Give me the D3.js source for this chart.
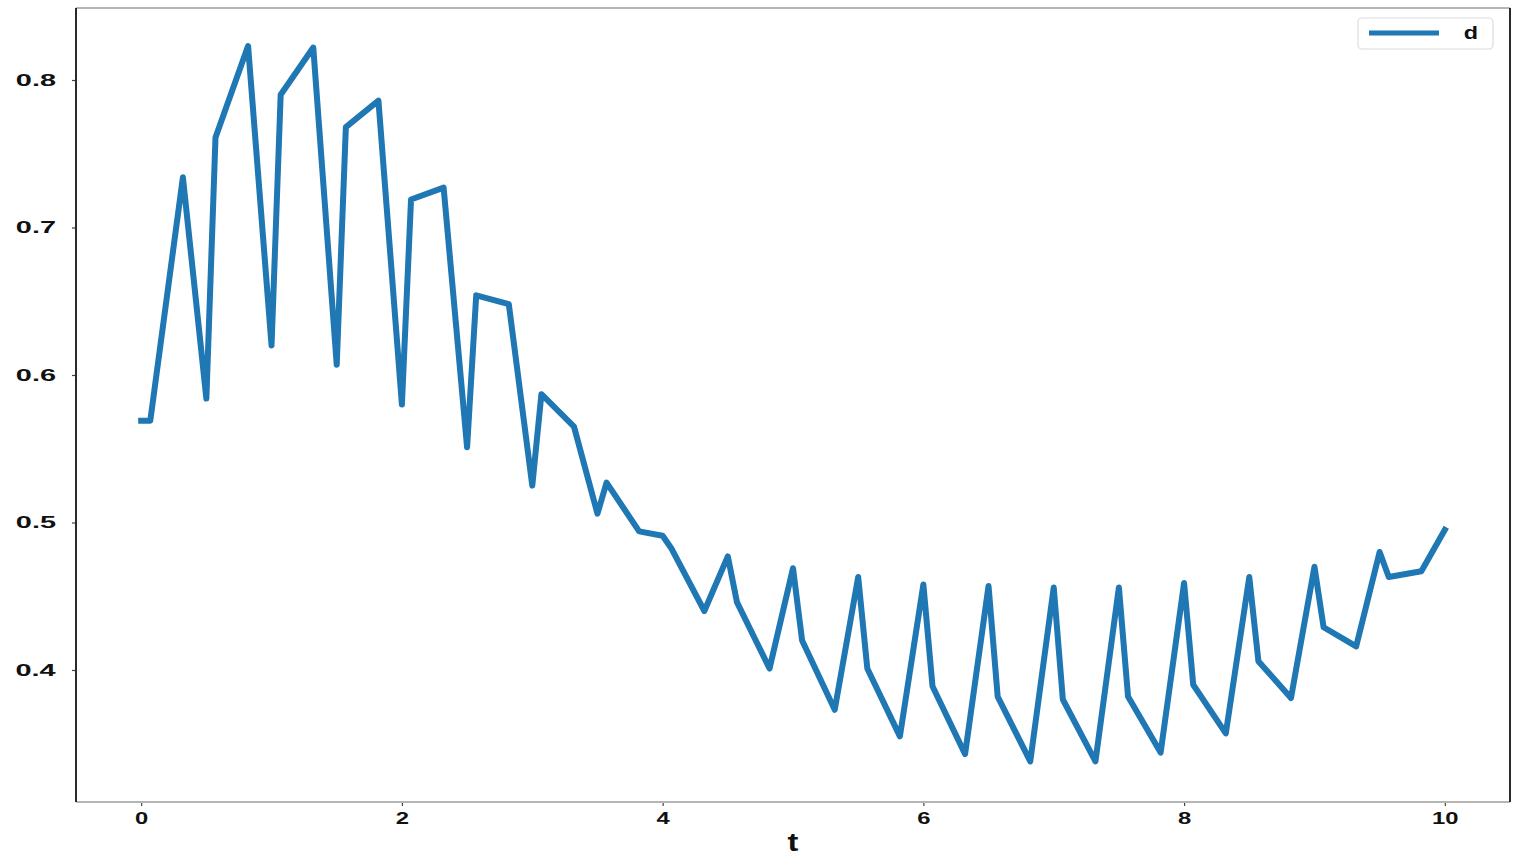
<!DOCTYPE html>
<html>
<head>
<meta charset="utf-8">
<script src="https://cdn.jsdelivr.net/npm/d3@7"></script>
<style>
  html, body { margin: 0; padding: 0; background: #fff; }
  svg { display: block; }
  text { font-family: "Liberation Sans", Arial, sans-serif; font-weight: bold; fill: #111; }
</style>
</head>
<body>
<svg id="chart" width="1524" height="864"></svg>
<script>
// ---- data ----
const tValues = [
  0, 0.07, 0.32, 0.5, 0.57, 0.82, 1.0, 1.07, 1.32, 1.5, 1.57, 1.82,
  2.0, 2.07, 2.32, 2.5, 2.57, 2.82, 3.0, 3.07, 3.32, 3.5, 3.57, 3.82,
  4.0, 4.07, 4.32, 4.5, 4.57, 4.82, 5.0, 5.07, 5.32, 5.5, 5.57, 5.82,
  6.0, 6.07, 6.32, 6.5, 6.57, 6.82, 7.0, 7.07, 7.32, 7.5, 7.57, 7.82,
  8.0, 8.07, 8.32, 8.5, 8.57, 8.82, 9.0, 9.07, 9.32, 9.5, 9.57, 9.82, 10.0
];
const dValues = [
  0.569, 0.569, 0.734, 0.584, 0.761, 0.823, 0.620, 0.790, 0.822, 0.607, 0.768, 0.786,
  0.580, 0.719, 0.727, 0.551, 0.654, 0.648, 0.525, 0.587, 0.565, 0.506, 0.527, 0.494,
  0.491, 0.482, 0.440, 0.477, 0.446, 0.401, 0.469, 0.420, 0.373, 0.463, 0.401, 0.355,
  0.458, 0.389, 0.343, 0.457, 0.382, 0.338, 0.456, 0.380, 0.338, 0.456, 0.382, 0.344,
  0.459, 0.390, 0.357, 0.463, 0.406, 0.381, 0.470, 0.429, 0.416, 0.480, 0.463, 0.467, 0.495
];
const xTicks = [0, 2, 4, 6, 8, 10];
const yTicks = [0.4, 0.5, 0.6, 0.7, 0.8];
const seriesName = "d";
const xLabel = "t";

// ---- layout ----
const svg = d3.select("#chart");
const L = 76, R = 1510, T = 8, B = 802;
const x = d3.scaleLinear().domain([-0.5, 10.5]).range([L, R]);
const y = d3.scaleLinear().domain([0.31051, 0.84881]).range([B, T]);
const blue = "#1f77b4";

// line
const data = tValues.map((t, i) => ({ t, d: dValues[i] }));
svg.append("clipPath").attr("id", "clip")
  .append("rect").attr("x", L).attr("y", T).attr("width", R - L).attr("height", B - T);
svg.append("path")
  .datum(data)
  .attr("clip-path", "url(#clip)")
  .attr("fill", "none")
  .attr("stroke", blue)
  .attr("stroke-width", 6)
  .attr("stroke-linejoin", "round")
  .attr("stroke-linecap", "square")
  .attr("d", d3.line().x(p => x(p.t)).y(p => y(p.d)));

// axes
const xAxis = svg.append("g").attr("transform", `translate(0,${B})`)
  .call(d3.axisBottom(x).tickValues(xTicks).tickSize(4).tickPadding(6).tickFormat(d3.format("d")));
const yAxis = svg.append("g").attr("transform", `translate(${L},0)`)
  .call(d3.axisLeft(y).tickValues(yTicks).tickSize(4).tickPadding(16).tickFormat(d3.format(".1f")));
[xAxis, yAxis].forEach(g => {
  g.select(".domain").remove();
  g.selectAll(".tick line").attr("stroke", "#444").attr("stroke-width", 1.2);
  g.selectAll(".tick text").attr("font-size", 17).attr("fill", "#111")
    .style("font-family", '"Liberation Sans", Arial, sans-serif').style("font-weight", "bold");
});
xAxis.selectAll(".tick text")
  .style("transform-box", "fill-box").style("transform-origin", "center")
  .style("transform", "scaleX(1.4)");
yAxis.selectAll(".tick text")
  .style("transform-box", "fill-box").style("transform-origin", "right center")
  .style("transform", "scaleX(1.7)");

// spines
svg.append("line").attr("x1", L).attr("x2", R).attr("y1", T).attr("y2", T)
  .attr("stroke", "#b5b5b5").attr("stroke-width", 2);
svg.append("line").attr("x1", L).attr("x2", R).attr("y1", B).attr("y2", B)
  .attr("stroke", "#b5b5b5").attr("stroke-width", 2);
svg.append("line").attr("x1", L).attr("x2", L).attr("y1", T).attr("y2", B)
  .attr("stroke", "#2a2a2a").attr("stroke-width", 2);
svg.append("line").attr("x1", R).attr("x2", R).attr("y1", T).attr("y2", B)
  .attr("stroke", "#2a2a2a").attr("stroke-width", 2);

// x label
svg.append("text").attr("x", (L + R) / 2).attr("y", 851)
  .attr("text-anchor", "middle").attr("font-size", 25)
  .style("transform-box", "fill-box").style("transform-origin", "center")
  .style("transform", "scaleX(1.3)")
  .text(xLabel);

// legend
const lg = svg.append("g");
lg.append("rect").attr("x", 1358).attr("y", 18).attr("width", 135).attr("height", 31)
  .attr("rx", 4).attr("fill", "#fff").attr("stroke", "#dcdcdc").attr("stroke-width", 1.2);
lg.append("line").attr("x1", 1369).attr("x2", 1439).attr("y1", 33).attr("y2", 33)
  .attr("stroke", blue).attr("stroke-width", 5);
lg.append("text").attr("x", 1471).attr("y", 33).attr("dy", "0.35em")
  .attr("text-anchor", "middle").attr("font-size", 18)
  .style("transform-box", "fill-box").style("transform-origin", "center")
  .style("transform", "scaleX(1.3)")
  .text(seriesName);
</script>
</body>
</html>
